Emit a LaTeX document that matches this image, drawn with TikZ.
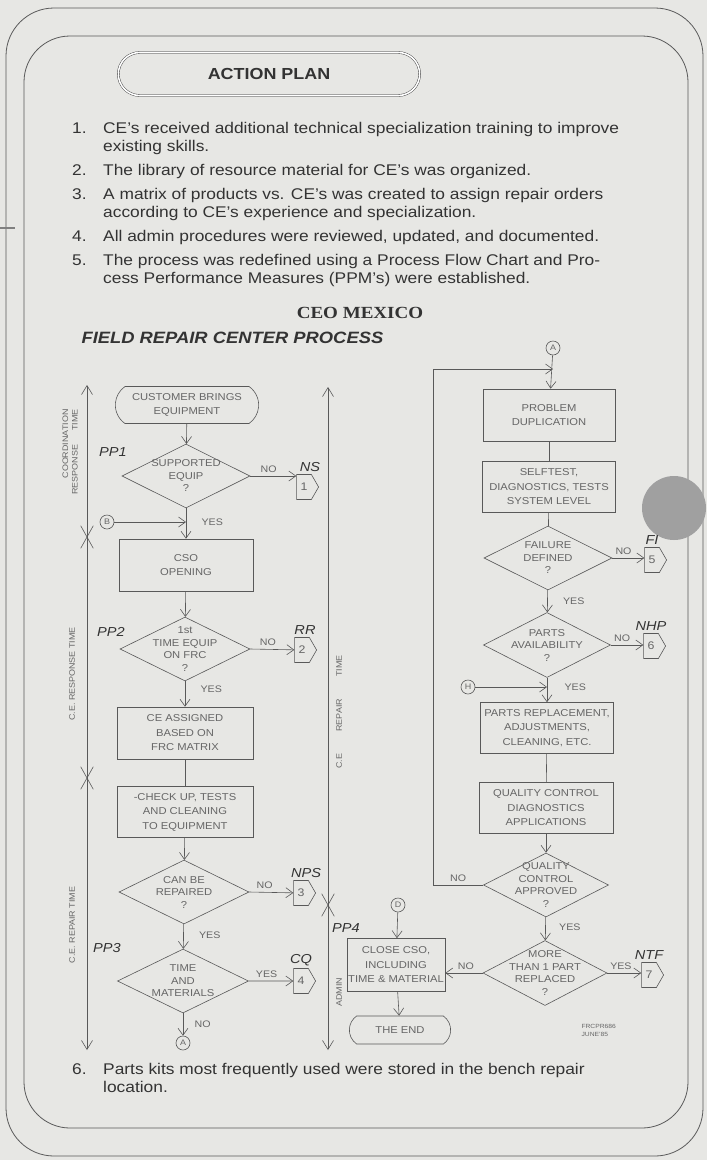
\documentclass[tikz,border=0pt]{standalone}
\usepackage{fontspec}
\setmainfont[FakeStretch=1.12]{Liberation Sans}
\newfontfamily\ceofont[FakeStretch=1.12]{Liberation Serif}
\usetikzlibrary{positioning,shapes.geometric,shapes.misc,shapes.symbols,arrows.meta}

\definecolor{paper}{RGB}{231,231,228}
\definecolor{ink}{gray}{0.2}
\definecolor{lineink}{gray}{0.35}
\definecolor{flowink}{gray}{0.4}
\definecolor{hole}{RGB}{160,160,160}

\newcommand{\flowfont}{\fontsize{10}{14.5}\selectfont}
\newcommand{\askfont}{\fontsize{10}{12.5}\selectfont}
\newcommand{\planfont}{\fontsize{15.5}{18}\selectfont}
\newcommand{\tagfont}{\fontsize{13}{14}\selectfont\itshape}
\newcommand{\sidefont}{\fontsize{8}{9.5}\selectfont}

\tikzset{
  procbox/.style={draw=lineink, line width=0.6pt, minimum width=134pt, minimum height=52pt,
    align=center, inner sep=1pt, font=\flowfont, text=flowink},
  decision/.style={draw=lineink, line width=0.6pt, diamond, minimum width=128pt, minimum height=64pt,
    inner sep=-24pt, align=center, font=\askfont, text=flowink},
  terminal/.style={draw=lineink, line width=0.6pt, rounded rectangle, rounded rectangle arc length=110,
    align=center, font=\flowfont, text=flowink},
  offpage/.style={draw=lineink, line width=0.6pt, signal, signal to=east, signal from=nowhere,
    signal pointer angle=120, minimum width=22pt, minimum height=25pt, inner sep=1pt,
    font=\fontsize{11}{12}\selectfont, text=flowink},
  joint/.style={draw=lineink, line width=0.6pt, circle, minimum size=14pt, inner sep=0pt,
    font=\fontsize{8}{8}\selectfont, text=flowink},
  flow/.style={lineink, line width=0.6pt, -{Straight Barb[length=7pt,width=10pt]}},
  link/.style={lineink, line width=0.6pt},
  span/.style={lineink, line width=0.6pt,
    {Straight Barb[length=9pt,width=11pt]}-{Straight Barb[length=9pt,width=11pt]}},
  cut/.style={cross out, draw=lineink, line width=0.6pt, minimum width=12pt, minimum height=22pt, inner sep=0pt},
  answer/.style={font=\fontsize{9.5}{10}\selectfont, text=flowink},
  tag/.style={font=\tagfont, text=ink},
  side/.style={font=\sidefont, text=flowink, rotate=90},
}

\begin{document}
\begin{tikzpicture}[x=1pt,y=-1pt]
  \fill[paper] (0,0) rectangle (707,1160);
  \useasboundingbox (0,0) rectangle (707,1160);

  % frames
  \draw[lineink, line width=0.8pt, rounded corners=48pt] (6,8) rectangle (703,1156);
  \draw[lineink, line width=0.8pt, rounded corners=46pt] (24,36) rectangle (688,1128);
  \draw[gray, line width=2.5pt] (0,228) -- (15,228);
  % punched hole
  \fill[hole] (674,508) circle (32);

  % heading
  \node[draw=ink, double, double distance=1.6pt, rounded rectangle, minimum width=308pt, minimum height=43pt,
    font=\bfseries\fontsize{16}{16}\selectfont, text=ink] (title) at (269,74) {ACTION PLAN};

  \node[font=\planfont, text=ink, anchor=north west, inner sep=0pt] (plan) at (72,121) {%
    \begin{tabular}{@{}p{31pt}@{}l@{}}
      1. & CE's received additional technical specialization training to improve\\
         & existing skills.\\[6pt]
      2. & The library of resource material for CE's was organized.\\[6pt]
      3. & A matrix of products vs. CE's was created to assign repair orders\\
         & according to CE's experience and specialization.\\[6pt]
      4. & All admin procedures were reviewed, updated, and documented.\\[6pt]
      5. & The process was redefined using a Process Flow Chart and Pro-\\
         & cess Performance Measures (PPM's) were established.
    \end{tabular}};

  \node[font=\ceofont\bfseries\fontsize{17}{17}\selectfont, text=ink] (ceo) at (360,313) {CEO MEXICO};
  \node[font=\bfseries\itshape\fontsize{16.4}{17}\selectfont, text=ink, anchor=west] (frc) at (78,338)
    {FIELD REPAIR CENTER PROCESS};

  % time spans
  \coordinate (ltop) at (87,385);
  \coordinate (lbot) at (87,1050);
  \draw[span] (ltop) -- (lbot);
  \node[cut] (x1) at (87,537) {};
  \node[cut] (x2) at (87,778) {};
  \coordinate (mtop) at (328,387);
  \coordinate (mbot) at (328,1050);
  \draw[span] (mtop) -- (mbot);
  \node[cut] (x3) at (328,905) {};

  \node[side, align=right] (coord) at (70,452) {COORDINATION\\RESPONSE\hspace{14pt}TIME};
  \node[side] (ceresp) at (72,674) {C.E. RESPONSE TIME};
  \node[side] (cerep) at (72,925) {C.E. REPAIR TIME};
  \node[side] (cerepm) at (339,712) {C.E\hspace{22pt}REPAIR\hspace{22pt}TIME};
  \node[side] (admin) at (339,992) {ADMIN};

  \node[tag] (pp1) at (113,452) {PP1};
  \node[tag] (pp2) at (111,632) {PP2};
  \node[tag] (pp3) at (107,948) {PP3};
  \node[tag] (pp4) at (346,928) {PP4};

  % left column
  \node[terminal, minimum width=150pt, minimum height=37pt] (start) at (187,405) {CUSTOMER BRINGS\\EQUIPMENT};
  \node[decision] (supp) at (186,476) {SUPPORTED\\EQUIP\\?};
  \node[procbox] (open) at (186,565) {CSO\\OPENING};
  \node[decision, minimum width=130pt] (first) at (185,649) {1st\\TIME EQUIP\\ON FRC\\?};
  \node[procbox, minimum width=136pt] (assign) at (185,733) {CE ASSIGNED\\BASED ON\\FRC MATRIX};
  \node[procbox, minimum width=136pt, minimum height=51pt] (check) at (185,812)
    {-CHECK UP, TESTS\\AND CLEANING\\TO EQUIPMENT};
  \node[decision, minimum width=130pt] (repair) at (184,892) {CAN BE\\REPAIRED\\?};
  \node[decision, minimum width=131pt] (tm) at (183,981) {TIME\\AND\\MATERIALS};
  \node[joint] (outa) at (183,1043) {A};
  \node[joint] (inb) at (107,522) {B};

  \node[offpage] (ns) at (304,487) {1};
  \node[offpage] (rr) at (302,650) {2};
  \node[offpage] (nps) at (301,893) {3};
  \node[offpage] (cq) at (301,981) {4};
  \node[tag, above=-1pt of ns, xshift=6pt] (nslbl) {NS};
  \node[tag, above=-1pt of rr, xshift=3pt] (rrlbl) {RR};
  \node[tag, above=-1pt of nps, xshift=5pt] (npslbl) {NPS};
  \node[tag, above=-1pt of cq] (cqlbl) {CQ};

  \draw[flow] (start) -- (supp);
  \draw[flow] (supp.east) -- node[answer, above, pos=0.4] {NO} (supp.east -| ns.west);
  \draw[flow] (supp) -- node[answer, right, pos=0.45, xshift=12pt] {YES} (open);
  \draw[flow] (inb) -- (inb -| supp.south);
  \draw[flow] (open) -- (first);
  \draw[flow] (first.east) -- node[answer, above, pos=0.4] {NO} (rr);
  \draw[flow] (first) -- node[answer, right, pos=0.3, xshift=12pt] {YES} (assign);
  \draw[link] (assign) -- (check);
  \draw[flow] (check) -- (repair);
  \draw[flow] (repair.east) -- node[answer, above, pos=0.35] {NO} (nps);
  \draw[flow] (repair) -- node[answer, right, pos=0.45, xshift=12pt] {YES} (tm);
  \draw[flow] (tm.east) -- node[answer, above, pos=0.4] {YES} (cq);
  \draw[flow] (tm) -- node[answer, right, pos=0.5, xshift=8pt] {NO} (outa);

  % right column
  \node[joint] (ina) at (553,348) {A};
  \node[procbox, minimum width=132pt] (dup) at (549,415) {PROBLEM\\DUPLICATION};
  \node[procbox, minimum width=133pt, minimum height=51pt] (self) at (549,487)
    {SELFTEST,\\DIAGNOSTICS, TESTS\\SYSTEM LEVEL};
  \node[decision] (fail) at (548,558) {FAILURE\\DEFINED\\?};
  \node[decision, minimum width=127pt, minimum height=65pt] (parts) at (547,645) {PARTS\\AVAILABILITY\\?};
  \node[joint] (inh) at (468,687) {H};
  \node[procbox, minimum width=133pt, minimum height=51pt] (repl) at (547,728)
    {PARTS REPLACEMENT,\\ADJUSTMENTS,\\CLEANING, ETC.};
  \node[procbox, minimum height=51pt] (qcd) at (546,808) {QUALITY CONTROL\\DIAGNOSTICS\\APPLICATIONS};
  \node[decision, minimum width=125pt] (qca) at (546,885) {QUALITY\\CONTROL\\APPROVED\\?};
  \node[decision, minimum width=124pt, minimum height=65pt] (more) at (545,973) {MORE\\THAN 1 PART\\REPLACED\\?};
  \node[procbox, minimum width=98pt, minimum height=53pt] (close) at (396,965)
    {CLOSE CSO,\\INCLUDING\\TIME \& MATERIAL};
  \node[joint] (ind) at (398,905) {D};
  \node[terminal, minimum width=108pt, minimum height=28pt] (end) at (400,1030) {THE END};
  \coordinate (loop) at (433,369);

  \node[offpage] (fi) at (652,560) {5};
  \node[offpage] (nhp) at (651,646) {6};
  \node[offpage] (ntf) at (649,975) {7};
  \node[tag, above=-1pt of fi] (filbl) {FI};
  \node[tag, above=-1pt of nhp] (nhplbl) {NHP};
  \node[tag, above=-1pt of ntf] (ntflbl) {NTF};

  \draw[flow] (ina) -- (dup);
  \draw[link] (dup) -- (self);
  \draw[link] (self) -- (fail);
  \draw[flow] (fail.east) -- node[answer, above, pos=0.35] {NO} (fail.east -| fi.west);
  \draw[flow] (fail) -- node[answer, right, pos=0.5, xshift=12pt] {YES} (parts);
  \draw[flow] (parts.east) -- node[answer, above, pos=0.35] {NO} (parts.east -| nhp.west);
  \draw[flow] (parts) -- node[answer, right, pos=0.4, xshift=14pt] {YES} (repl);
  \draw[flow] (inh) -- (inh -| parts.south);
  \draw[link] (repl) -- (qcd);
  \draw[flow] (qcd) -- (qca);
  \draw[flow] (qca.west) -- node[answer, above, pos=0.5] {NO} (qca.west -| loop) -- (loop) -- (loop -| ina);
  \draw[flow] (qca) -- node[answer, right, pos=0.45, xshift=10pt] {YES} (more);
  \draw[flow] (more.east) -- node[answer, above, pos=0.4] {YES} (more.east -| ntf.west);
  \draw[flow] (more.west) -- node[answer, above, pos=0.45] {NO} (more.west -| close.east);
  \draw[flow] (ind) -- (close);
  \draw[flow] (close) -- (end);

  \node[font=\fontsize{6}{8}\selectfont, text=flowink, align=left, anchor=west] (code) at (578,1030)
    {FRCPR686\\JUNE'85};

  \node[font=\planfont, text=ink, anchor=north west, inner sep=0pt] (plan6) at (72,1062) {%
    \begin{tabular}{@{}p{31pt}@{}l@{}}
      6. & Parts kits most frequently used were stored in the bench repair\\
         & location.
    \end{tabular}};
\end{tikzpicture}
\end{document}
